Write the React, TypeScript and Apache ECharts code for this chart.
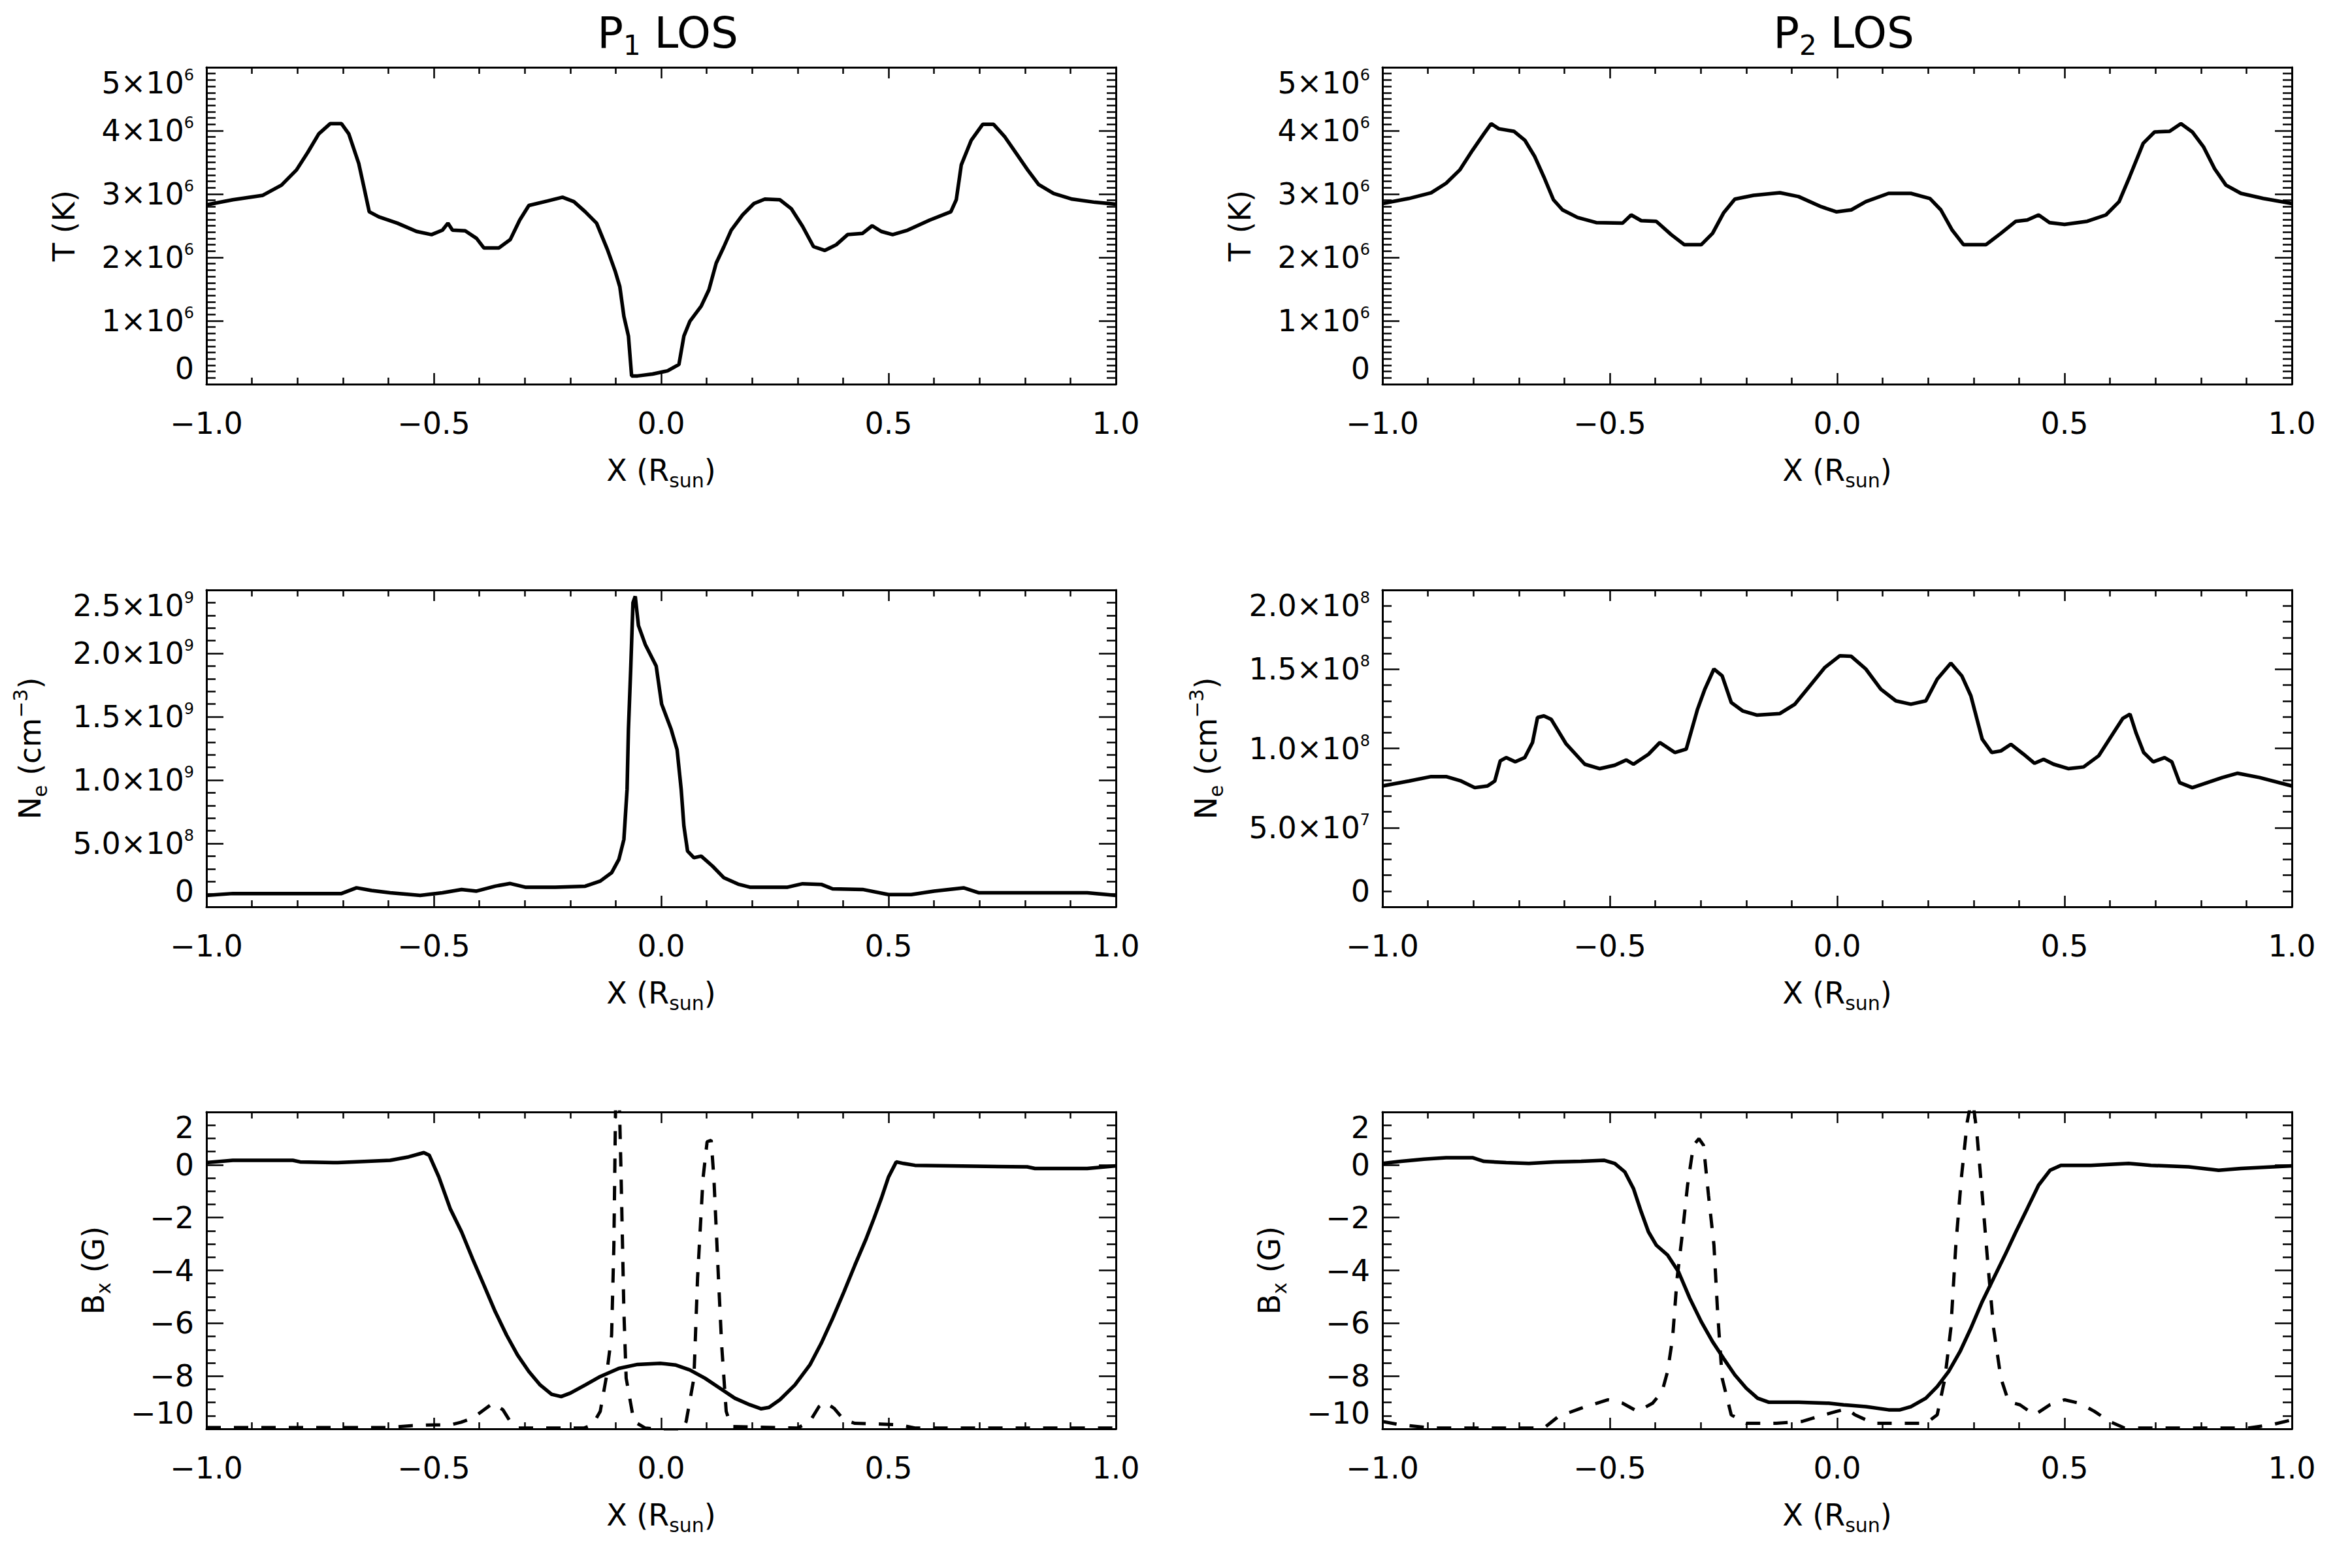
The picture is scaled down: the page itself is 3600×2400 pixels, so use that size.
import React, { useEffect, useRef } from "react";
import * as echarts from "echarts";

const FONT = "'DejaVu Sans', 'Liberation Sans', Arial, sans-serif";
const INK = "#000000";

// ---- texts ----
const panelTitles = ["P{sub|1} LOS", "P{sub|2} LOS"];
const xTickLabels = ["−1.0", "−0.5", "0.0", "0.5", "1.0"];
const xName = "X (R{sub|sun})";
const tTickLabels = ["0", "1×10{sup|6}", "2×10{sup|6}", "3×10{sup|6}", "4×10{sup|6}", "5×10{sup|6}"];
const neP1TickLabels = ["0", "5.0×10{sup|8}", "1.0×10{sup|9}", "1.5×10{sup|9}", "2.0×10{sup|9}", "2.5×10{sup|9}"];
const neP2TickLabels = ["0", "5.0×10{sup|7}", "1.0×10{sup|8}", "1.5×10{sup|8}", "2.0×10{sup|8}"];
const bTickLabels = ["−10", "−8", "−6", "−4", "−2", "0", "2"];
const tName = "T (K)";
const neName = "N{sub|e} (cm{sup|−3})";
const bName = "B{sub|x} (G)";

// ---- data: [X (R_sun), value] ----
// Temperature, units of 1e6 K
const tP1 = [
  [-1.0, 2.83], [-0.942, 2.91], [-0.876, 2.98], [-0.835, 3.14], [-0.802, 3.38], [-0.777, 3.66],
  [-0.753, 3.95], [-0.728, 4.11], [-0.703, 4.11], [-0.687, 3.95], [-0.665, 3.48], [-0.654, 3.12],
  [-0.642, 2.72], [-0.621, 2.64], [-0.58, 2.54], [-0.538, 2.41], [-0.505, 2.36], [-0.481, 2.43],
  [-0.469, 2.54], [-0.459, 2.43], [-0.431, 2.42], [-0.406, 2.3], [-0.39, 2.15], [-0.357, 2.15],
  [-0.332, 2.28], [-0.311, 2.59], [-0.291, 2.82], [-0.25, 2.89], [-0.217, 2.95], [-0.192, 2.88],
  [-0.167, 2.72], [-0.142, 2.54], [-0.118, 2.12], [-0.101, 1.78], [-0.091, 1.54], [-0.082, 1.07],
  [-0.072, 0.76], [-0.065, 0.13], [-0.052, 0.13], [-0.019, 0.16], [0.014, 0.21], [0.039, 0.31],
  [0.05, 0.76], [0.063, 0.99], [0.088, 1.23], [0.105, 1.49], [0.121, 1.91], [0.138, 2.17],
  [0.154, 2.43], [0.179, 2.67], [0.204, 2.85], [0.228, 2.92], [0.261, 2.91], [0.286, 2.77],
  [0.311, 2.49], [0.335, 2.17], [0.36, 2.11], [0.385, 2.2], [0.41, 2.36], [0.443, 2.38],
  [0.464, 2.5], [0.484, 2.41], [0.509, 2.36], [0.542, 2.43], [0.591, 2.59], [0.637, 2.72],
  [0.649, 2.91], [0.66, 3.46], [0.682, 3.85], [0.707, 4.1], [0.731, 4.1], [0.756, 3.9],
  [0.781, 3.64], [0.806, 3.38], [0.83, 3.15], [0.863, 3.01], [0.904, 2.92], [0.954, 2.87], [1.0, 2.84],
];
const tP2 = [
  [-1.0, 2.85], [-0.942, 2.93], [-0.893, 3.02], [-0.86, 3.17], [-0.83, 3.38], [-0.802, 3.69],
  [-0.777, 3.95], [-0.761, 4.11], [-0.744, 4.03], [-0.711, 3.99], [-0.687, 3.85], [-0.665, 3.59],
  [-0.645, 3.27], [-0.624, 2.91], [-0.604, 2.75], [-0.571, 2.63], [-0.53, 2.55], [-0.472, 2.54],
  [-0.453, 2.67], [-0.431, 2.58], [-0.398, 2.57], [-0.365, 2.36], [-0.336, 2.2], [-0.299, 2.2],
  [-0.274, 2.38], [-0.25, 2.7], [-0.225, 2.92], [-0.184, 2.98], [-0.126, 3.02], [-0.085, 2.96],
  [-0.035, 2.8], [-0.002, 2.72], [0.031, 2.75], [0.063, 2.88], [0.113, 3.01], [0.162, 3.01],
  [0.204, 2.93], [0.228, 2.75], [0.253, 2.43], [0.278, 2.2], [0.327, 2.2], [0.36, 2.38],
  [0.393, 2.57], [0.418, 2.59], [0.443, 2.67], [0.467, 2.55], [0.5, 2.52], [0.55, 2.57],
  [0.591, 2.67], [0.62, 2.88], [0.643, 3.27], [0.673, 3.8], [0.698, 3.98], [0.731, 3.99],
  [0.756, 4.11], [0.781, 3.98], [0.806, 3.74], [0.83, 3.4], [0.855, 3.14], [0.888, 3.01],
  [0.937, 2.93], [1.0, 2.85],
];
// Electron density P1, units of 1e9 cm^-3
const neP1 = [
  [-1.0, 0.09], [-0.942, 0.105], [-0.703, 0.105], [-0.67, 0.15], [-0.637, 0.129], [-0.596, 0.111],
  [-0.53, 0.09], [-0.481, 0.111], [-0.439, 0.137], [-0.406, 0.124], [-0.365, 0.163], [-0.332, 0.184],
  [-0.299, 0.155], [-0.233, 0.155], [-0.167, 0.163], [-0.134, 0.203], [-0.109, 0.269], [-0.093, 0.374],
  [-0.082, 0.532], [-0.075, 0.927], [-0.072, 1.4], [-0.067, 1.876], [-0.062, 2.4], [-0.057, 2.45],
  [-0.05, 2.22], [-0.035, 2.07], [-0.011, 1.9], [0.001, 1.6], [0.022, 1.4], [0.035, 1.24],
  [0.044, 0.927], [0.05, 0.637], [0.058, 0.44], [0.072, 0.387], [0.088, 0.4], [0.113, 0.321],
  [0.138, 0.229], [0.171, 0.177], [0.195, 0.155], [0.278, 0.155], [0.311, 0.182], [0.352, 0.177],
  [0.377, 0.142], [0.443, 0.137], [0.5, 0.097], [0.55, 0.097], [0.6, 0.124], [0.665, 0.15],
  [0.698, 0.111], [0.937, 0.111], [1.0, 0.09],
];
// Electron density P2, units of 1e8 cm^-3
const neP2 = [
  [-1.0, 0.763], [-0.942, 0.794], [-0.893, 0.822], [-0.86, 0.822], [-0.827, 0.794], [-0.797, 0.752],
  [-0.769, 0.763], [-0.753, 0.794], [-0.741, 0.921], [-0.728, 0.942], [-0.708, 0.915], [-0.687, 0.942],
  [-0.67, 1.037], [-0.659, 1.195], [-0.645, 1.205], [-0.629, 1.184], [-0.596, 1.028], [-0.555, 0.9],
  [-0.522, 0.872], [-0.489, 0.894], [-0.464, 0.927], [-0.448, 0.9], [-0.415, 0.963], [-0.39, 1.037],
  [-0.357, 0.974], [-0.332, 0.995], [-0.307, 1.248], [-0.291, 1.374], [-0.271, 1.501], [-0.253, 1.458],
  [-0.233, 1.29], [-0.208, 1.237], [-0.176, 1.21], [-0.126, 1.22], [-0.093, 1.279], [-0.06, 1.395],
  [-0.027, 1.511], [0.006, 1.585], [0.031, 1.581], [0.063, 1.501], [0.096, 1.374], [0.129, 1.3],
  [0.162, 1.279], [0.195, 1.3], [0.22, 1.437], [0.25, 1.538], [0.274, 1.458], [0.294, 1.332],
  [0.319, 1.058], [0.34, 0.974], [0.36, 0.984], [0.382, 1.026], [0.41, 0.963], [0.434, 0.906],
  [0.454, 0.931], [0.476, 0.9], [0.509, 0.872], [0.542, 0.883], [0.575, 0.953], [0.608, 1.1],
  [0.628, 1.189], [0.644, 1.216], [0.657, 1.1], [0.674, 0.974], [0.695, 0.915], [0.72, 0.942],
  [0.736, 0.915], [0.753, 0.784], [0.781, 0.752], [0.814, 0.784], [0.847, 0.816], [0.88, 0.843],
  [0.929, 0.816], [1.0, 0.763],
];
// Bx (G), P1: solid and dashed curves
const bxP1 = [
  [-1.0, 0.08], [-0.942, 0.17], [-0.81, 0.17], [-0.794, 0.11], [-0.711, 0.08], [-0.678, 0.11],
  [-0.596, 0.17], [-0.555, 0.3], [-0.522, 0.46], [-0.51, 0.36], [-0.489, -0.46], [-0.464, -1.66],
  [-0.439, -2.54], [-0.415, -3.55], [-0.39, -4.55], [-0.365, -5.56], [-0.34, -6.45], [-0.316, -7.2],
  [-0.291, -7.83], [-0.266, -8.34], [-0.241, -8.69], [-0.22, -8.78], [-0.2, -8.65], [-0.167, -8.34],
  [-0.134, -8.02], [-0.093, -7.71], [-0.052, -7.56], [-0.002, -7.52], [0.031, -7.58], [0.063, -7.77],
  [0.096, -8.08], [0.129, -8.46], [0.162, -8.84], [0.195, -9.09], [0.22, -9.24], [0.237, -9.19],
  [0.261, -8.9], [0.294, -8.34], [0.327, -7.58], [0.352, -6.76], [0.377, -5.82], [0.402, -4.81],
  [0.426, -3.8], [0.451, -2.79], [0.468, -2.03], [0.484, -1.28], [0.5, -0.46], [0.517, 0.11],
  [0.533, 0.05], [0.558, -0.02], [0.805, -0.08], [0.822, -0.14], [0.937, -0.14], [1.0, -0.04],
];
const bxP1Dash = [
  [-1.0, -9.95], [-0.6, -9.95], [-0.55, -9.88], [-0.5, -9.85], [-0.464, -9.85], [-0.44, -9.75],
  [-0.415, -9.6], [-0.39, -9.28], [-0.37, -9.03], [-0.348, -9.28], [-0.332, -9.72], [-0.316, -9.97],
  [-0.17, -9.97], [-0.151, -9.85], [-0.134, -9.34], [-0.121, -8.08], [-0.109, -6.45], [-0.104, -3.04],
  [-0.1, 2.6], [-0.096, 3.2], [-0.092, 2.4], [-0.088, -0.52], [-0.082, -5.56], [-0.077, -8.08],
  [-0.06, -9.72], [-0.035, -9.97], [0.045, -10.1], [0.055, -9.72], [0.072, -8.08], [0.08, -4.3],
  [0.092, -0.52], [0.101, 0.87], [0.11, 0.93], [0.116, -0.52], [0.126, -4.3], [0.133, -6.82],
  [0.143, -9.34], [0.154, -9.91], [0.3, -9.97], [0.327, -9.72], [0.347, -9.16], [0.36, -8.99],
  [0.38, -9.22], [0.402, -9.66], [0.426, -9.79], [0.484, -9.82], [0.525, -9.85], [0.558, -9.97],
  [1.0, -9.97],
];
// Bx (G), P2: solid and dashed curves
const bxP2 = [
  [-1.0, 0.05], [-0.959, 0.13], [-0.909, 0.21], [-0.86, 0.27], [-0.802, 0.27], [-0.777, 0.13],
  [-0.728, 0.08], [-0.678, 0.05], [-0.621, 0.11], [-0.563, 0.13], [-0.513, 0.17], [-0.489, 0.05],
  [-0.467, -0.27], [-0.448, -0.9], [-0.431, -1.78], [-0.415, -2.54], [-0.398, -3.04], [-0.373, -3.42],
  [-0.349, -4.05], [-0.324, -5.06], [-0.299, -5.94], [-0.274, -6.7], [-0.25, -7.33], [-0.225, -7.96],
  [-0.2, -8.46], [-0.175, -8.84], [-0.151, -8.99], [-0.085, -8.99], [-0.019, -9.03], [0.014, -9.09],
  [0.063, -9.16], [0.113, -9.28], [0.138, -9.28], [0.162, -9.16], [0.195, -8.84], [0.22, -8.4],
  [0.245, -7.83], [0.27, -7.08], [0.294, -6.19], [0.319, -5.18], [0.344, -4.3], [0.369, -3.42],
  [0.393, -2.54], [0.418, -1.66], [0.443, -0.77], [0.468, -0.21], [0.492, -0.02], [0.558, -0.02],
  [0.641, 0.05], [0.69, -0.02], [0.773, -0.08], [0.839, -0.21], [0.888, -0.14], [1.0, -0.04],
];
const bxP2Dash = [
  [-1.0, -9.72], [-0.959, -9.85], [-0.893, -9.97], [-0.645, -9.97], [-0.613, -9.53], [-0.563, -9.22],
  [-0.505, -8.9], [-0.472, -9.03], [-0.439, -9.34], [-0.406, -9.03], [-0.385, -8.59], [-0.373, -7.83],
  [-0.362, -6.57], [-0.352, -4.3], [-0.34, -2.54], [-0.329, -0.77], [-0.316, 0.74], [-0.304, 0.99],
  [-0.294, 0.74], [-0.283, -1.15], [-0.271, -3.04], [-0.263, -5.56], [-0.253, -8.08], [-0.233, -9.47],
  [-0.2, -9.79], [-0.134, -9.79], [-0.077, -9.72], [-0.035, -9.5], [-0.002, -9.34], [0.022, -9.24],
  [0.039, -9.47], [0.08, -9.79], [0.195, -9.79], [0.22, -9.47], [0.237, -8.08], [0.25, -6.19],
  [0.261, -3.04], [0.273, -0.52], [0.286, 1.62], [0.294, 2.35], [0.3, 2.2], [0.307, 1.24],
  [0.319, -1.15], [0.331, -3.67], [0.344, -6.19], [0.36, -8.08], [0.377, -8.97], [0.402, -9.09],
  [0.434, -9.47], [0.468, -9.09], [0.5, -8.9], [0.533, -9.03], [0.566, -9.34], [0.599, -9.72],
  [0.632, -9.97], [0.904, -9.97], [0.954, -9.85], [1.0, -9.66],
];

// ---- layout ----
const COL_LEFT = [316, 2116];
const ROW_TOP = [103, 903, 1702];
const PLOT_W = 1392;
const PLOT_H = 485;

const panels = [
  { col: 0, row: 0, yMin: 0, yMax: 5, yStep: 1, yMinor: 10, labels: tTickLabels, name: tName, nameGap: 188, solid: tP1, dashed: null },
  { col: 1, row: 0, yMin: 0, yMax: 5, yStep: 1, yMinor: 10, labels: tTickLabels, name: tName, nameGap: 188, solid: tP2, dashed: null },
  { col: 0, row: 1, yMin: 0, yMax: 2.5, yStep: 0.5, yMinor: 5, labels: neP1TickLabels, name: neName, nameGap: 240, solid: neP1, dashed: null },
  { col: 1, row: 1, yMin: 0, yMax: 2, yStep: 0.5, yMinor: 5, labels: neP2TickLabels, name: neName, nameGap: 240, solid: neP2, dashed: null },
  { col: 0, row: 2, yMin: -10, yMax: 2, yStep: 2, yMinor: 4, labels: bTickLabels, name: bName, nameGap: 143, solid: bxP1, dashed: bxP1Dash },
  { col: 1, row: 2, yMin: -10, yMax: 2, yStep: 2, yMinor: 4, labels: bTickLabels, name: bName, nameGap: 143, solid: bxP2, dashed: bxP2Dash },
];

const richSubSup = {
  sub: { fontSize: 30, lineHeight: 26, verticalAlign: "bottom", fontFamily: FONT, color: INK },
  sup: { fontSize: 30, lineHeight: 26, verticalAlign: "top", fontFamily: FONT, color: INK },
};

function buildOption() {
  const grid: any[] = [];
  const xAxis: any[] = [];
  const yAxis: any[] = [];
  const series: any[] = [];
  const lineStyleAxis = { color: INK, width: 3 };
  const tickLine = { color: INK, width: 2.5 };

  panels.forEach((p, i) => {
    grid.push({
      left: COL_LEFT[p.col],
      top: ROW_TOP[p.row],
      width: PLOT_W,
      height: PLOT_H,
      containLabel: false,
      outerBoundsMode: "none",
    });
    const xBase = {
      type: "value",
      gridIndex: i,
      min: -1,
      max: 1,
      interval: 0.5,
      splitLine: { show: false },
      minorSplitLine: { show: false },
      axisLine: { show: true, onZero: false, lineStyle: lineStyleAxis },
      axisTick: { show: true, inside: true, length: 17, lineStyle: tickLine },
      minorTick: { show: true, splitNumber: 5, length: 10, lineStyle: tickLine },
    };
    xAxis.push({
      ...xBase,
      position: "bottom",
      axisLabel: {
        show: true,
        showMinLabel: true,
        showMaxLabel: true,
        margin: 37,
        fontSize: 46,
        lineHeight: 46,
        fontFamily: FONT,
        color: INK,
        formatter: (v: number) => xTickLabels[Math.round((v + 1) / 0.5)],
      },
      name: xName,
      nameLocation: "middle",
      nameGap: 102,
      nameTextStyle: { fontSize: 46, lineHeight: 60, fontFamily: FONT, color: INK, rich: richSubSup },
    });
    xAxis.push({ ...xBase, position: "top", axisLabel: { show: false } });

    const yBase = {
      type: "value",
      gridIndex: i,
      min: p.yMin,
      max: p.yMax,
      interval: p.yStep,
      splitLine: { show: false },
      minorSplitLine: { show: false },
      axisLine: { show: true, onZero: false, lineStyle: lineStyleAxis },
      axisTick: { show: true, inside: true, length: 26, lineStyle: tickLine },
      minorTick: { show: true, splitNumber: p.yMinor, length: 14, lineStyle: tickLine },
    };
    const labels = p.labels;
    const yMin = p.yMin;
    const yStep = p.yStep;
    yAxis.push({
      ...yBase,
      position: "left",
      axisLabel: {
        show: true,
        showMinLabel: true,
        showMaxLabel: true,
        hideOverlap: false,
        margin: 19,
        fontSize: 46,
        lineHeight: 48,
        fontFamily: FONT,
        color: INK,
        verticalAlignMinLabel: "bottom",
        verticalAlignMaxLabel: "top",
        formatter: (v: number) => labels[Math.round((v - yMin) / yStep)],
        rich: {
          sup: { fontSize: 24, lineHeight: 20, verticalAlign: "top", fontFamily: FONT, color: INK },
        },
      },
      name: p.name,
      nameLocation: "middle",
      nameRotate: 90,
      nameGap: p.nameGap,
      nameTextStyle: { fontSize: 46, lineHeight: 60, fontFamily: FONT, color: INK, rich: richSubSup },
    });
    yAxis.push({ ...yBase, position: "right", axisLabel: { show: false } });

    series.push({
      type: "line",
      xAxisIndex: 2 * i,
      yAxisIndex: 2 * i,
      data: p.solid,
      showSymbol: false,
      symbol: "none",
      clip: true,
      lineStyle: { color: INK, width: 5.5 },
    });
    if (p.dashed) {
      series.push({
        type: "line",
        xAxisIndex: 2 * i,
        yAxisIndex: 2 * i,
        data: p.dashed,
        showSymbol: false,
        symbol: "none",
        clip: true,
        lineStyle: { color: INK, width: 5, type: [22, 20] },
      });
    }
  });

  const title = panelTitles.map((t, c) => ({
    text: t,
    left: COL_LEFT[c] + PLOT_W / 2 + 10,
    top: 10,
    padding: 0,
    textAlign: "center",
    textStyle: {
      fontSize: 66,
      lineHeight: 80,
      fontWeight: "normal",
      fontFamily: FONT,
      color: INK,
      rich: { sub: { fontSize: 42, lineHeight: 34, verticalAlign: "bottom", fontFamily: FONT, color: INK } },
    },
  }));

  return {
    animation: false,
    backgroundColor: "#ffffff",
    textStyle: { fontFamily: FONT, color: INK },
    title,
    grid,
    xAxis,
    yAxis,
    series,
  };
}

export default function App() {
  const ref = useRef<HTMLDivElement>(null);
  useEffect(() => {
    if (!ref.current) return;
    const chart = echarts.init(ref.current, null, { renderer: "svg" });
    chart.setOption(buildOption() as any);
    return () => chart.dispose();
  }, []);
  return (
    <div
      ref={ref}
      style={{ position: "absolute", left: 0, top: 0, width: 3600, height: 2400, background: "#ffffff" }}
    />
  );
}
